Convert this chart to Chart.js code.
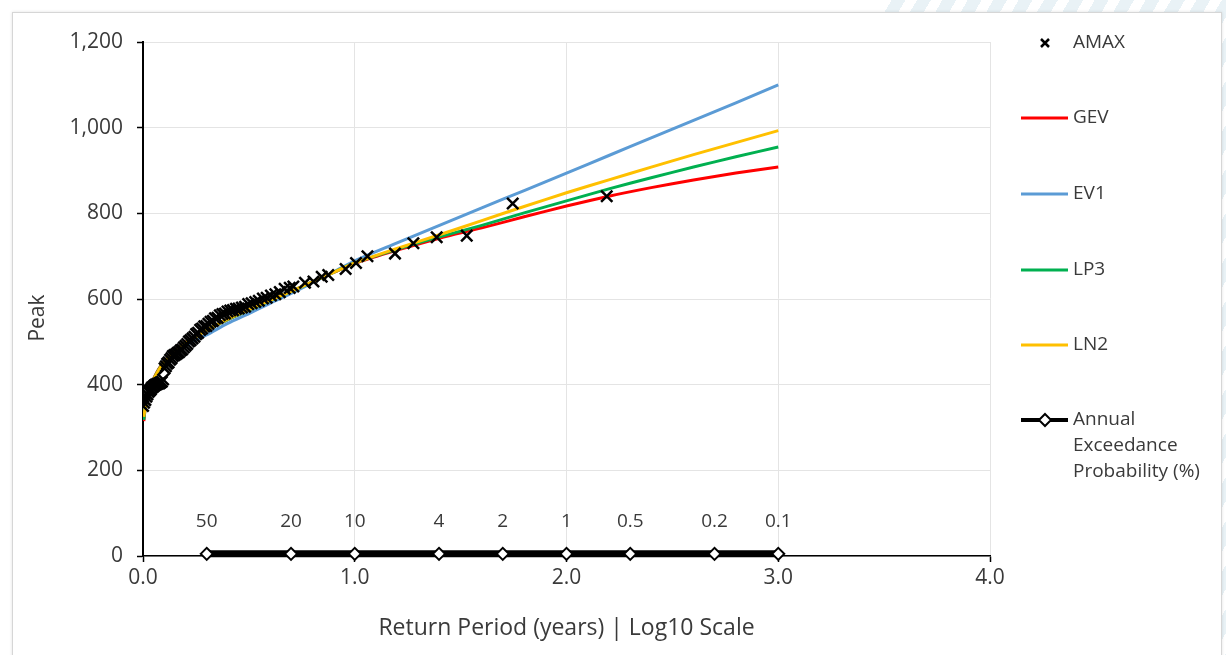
<!DOCTYPE html>
<html>
<head>
<meta charset="utf-8">
<script src="https://cdn.jsdelivr.net/npm/chart.js@4.4.1/dist/chart.umd.min.js"></script>
<style>
  html, body { margin: 0; padding: 0; background: #ffffff; }
  #wrap { position: relative; width: 1226px; height: 655px; overflow: hidden; }
  #stripes { position: absolute; left: 880px; top: 0; width: 346px; height: 655px;
    background: repeating-linear-gradient(120deg, #ffffff 0px, #ffffff 10px, #e9f2f6 10px, #e9f2f6 22px); }
  #card { position: absolute; left: 12px; top: 12px; width: 1208px; height: 700px;
    background: #ffffff; border: 1px solid #d6d6d6; box-shadow: 0 0 3px rgba(0,0,0,0.12); }
  canvas { position: absolute; left: 0; top: 0; }
</style>
</head>
<body>
<div id="wrap">
  <div id="stripes"></div>
  <div id="card"></div>
  <canvas id="c" width="1226" height="655"></canvas>
</div>
<script>
// ---- data ----
const fitX = [0.004, 0.01, 0.02, 0.035, 0.05, 0.075, 0.1, 0.15, 0.2, 0.25, 0.3, 0.4, 0.5, 0.6, 0.7, 0.8, 0.9, 1.0, 1.2, 1.4, 1.6, 1.8, 2.0, 2.2, 2.4, 2.6, 2.8, 3.0];
const gevY = [315, 343, 371, 397, 414, 437, 454, 480, 499, 514, 527, 552, 574, 596, 618, 640, 662, 683, 714, 742, 766, 792, 817, 840, 860, 878, 894, 908];
const ev1Y = [335, 352, 372, 393, 408, 428, 445, 470, 490, 505, 516, 543, 566, 590, 613, 638, 663, 689, 731, 772, 813, 853, 894, 935, 976, 1017, 1058, 1100];
const lp3Y = [318, 343, 370, 396, 413, 436, 453, 479, 498, 513, 527, 552, 574, 596, 618, 640, 662, 684, 716, 745, 772, 801, 829, 857, 883, 908, 932, 955];
const ln2Y = [325, 345, 370, 395, 412, 435, 452, 478, 497, 512, 527, 553, 575, 597, 618, 640, 662, 684, 718, 750, 783, 816, 848, 878, 908, 937, 965, 993];

const amaxX = [2.19, 1.746, 1.529, 1.387, 1.277, 1.19, 1.06, 1.006, 0.957, 0.875, 0.844, 0.805, 0.765, 0.71,
  0.693, 0.669, 0.646, 0.625, 0.604, 0.584, 0.566, 0.547, 0.530, 0.513, 0.497, 0.482, 0.467, 0.452, 0.439, 0.425,
  0.412, 0.399, 0.387, 0.375, 0.363, 0.352, 0.340, 0.330, 0.319, 0.309, 0.299, 0.289, 0.279, 0.270, 0.260, 0.251,
  0.243, 0.234, 0.225, 0.217, 0.209, 0.201, 0.193, 0.185, 0.178, 0.170, 0.163, 0.156, 0.148, 0.141, 0.135, 0.128,
  0.121, 0.114, 0.108, 0.102, 0.095, 0.089, 0.083, 0.077, 0.071, 0.065, 0.059, 0.054, 0.048, 0.042, 0.037, 0.032,
  0.026, 0.021, 0.016, 0.011, 0.005, 0.0003];
const amaxY = [840, 823, 748, 744, 730, 706, 700, 684, 670, 656, 652, 641, 638, 629,
  626, 624, 616, 611, 608, 603, 601, 596, 593, 590, 588, 582, 580, 578, 577, 574,
  573, 571, 566, 565, 562, 556, 555, 549, 547, 542, 537, 536, 531, 528, 521, 518,
  512, 508, 504, 501, 495, 491, 487, 482, 480, 476, 474, 471, 469, 467, 462, 458,
  452, 449, 443, 438, 412, 407, 405, 403, 402, 401, 400, 398, 395, 393, 389, 386,
  383, 377, 372, 364, 358, 350];

const aepX = [0.301, 0.699, 1.0, 1.398, 1.699, 2.0, 2.301, 2.699, 3.0];
const aepY = [5, 5, 5, 5, 5, 5, 5, 5, 5];
const aepLabels = ['50', '20', '10', '4', '2', '1', '0.5', '0.2', '0.1'];

const xTickValues = [0, 1, 2, 3, 4];
const yTickValues = [0, 200, 400, 600, 800, 1000, 1200];

const FONT = "'Open Sans', 'Noto Sans', sans-serif";
const TXT = '#3a3a3a';

const pts = (xs, ys) => xs.map((x, i) => ({ x: x, y: ys[i] }));

const fitStyle = (label, color, order, ys) => ({
  label: label, data: pts(fitX, ys), showLine: true, borderColor: color, backgroundColor: color,
  borderWidth: 3, pointRadius: 0, tension: 0.3, order: order
});

const datasets = [
  { label: 'AMAX', data: pts(amaxX, amaxY), pointStyle: 'crossRot', pointRadius: 8,
    pointBorderWidth: 2.5, borderColor: '#000', pointBorderColor: '#000', showLine: false, order: 0 },
  fitStyle('GEV', '#FF0000', 4, gevY),
  fitStyle('EV1', '#5B9BD5', 3, ev1Y),
  fitStyle('LP3', '#00B050', 2, lp3Y),
  fitStyle('LN2', '#FFC000', 1, ln2Y),
  { label: 'Annual Exceedance Probability (%)', data: pts(aepX, aepY), showLine: true,
    borderColor: '#000', borderWidth: 7, pointStyle: 'rectRot', pointRadius: 6,
    pointBackgroundColor: '#fff', pointBorderColor: '#000', pointBorderWidth: 2, clip: false, order: 5 }
];

const aepLabelPlugin = {
  id: 'aepLabels',
  afterDatasetsDraw(chart) {
    const meta = chart.getDatasetMeta(5);
    const ctx = chart.ctx;
    ctx.save();
    ctx.font = '19px ' + FONT;
    ctx.fillStyle = TXT;
    ctx.textAlign = 'center';
    ctx.textBaseline = 'middle';
    meta.data.forEach((p, i) => ctx.fillText(aepLabels[i], p.x, p.y - 32));
    ctx.restore();
  }
};

const yTitlePlugin = {
  id: 'yTitle',
  afterDraw(chart) {
    const ctx = chart.ctx;
    ctx.save();
    ctx.translate(38, 318);
    ctx.rotate(-Math.PI / 2);
    ctx.font = '21px ' + FONT;
    ctx.fillStyle = TXT;
    ctx.textAlign = 'center';
    ctx.textBaseline = 'middle';
    ctx.fillText('Peak', 0, 0);
    ctx.restore();
  }
};

const legendPlugin = {
  id: 'customLegend',
  afterDraw(chart) {
    const ctx = chart.ctx;
    const ds = chart.data.datasets;
    const lx0 = 1021, lx1 = 1068, tx = 1073;
    const rows = [43, 118, 194, 270, 345, 420];
    ctx.save();
    ctx.font = '19px ' + FONT;
    ctx.fillStyle = TXT;
    ctx.textBaseline = 'middle';
    ds.forEach((d, i) => {
      const y = rows[i];
      if (i === 0) {
        ctx.strokeStyle = '#000';
        ctx.lineWidth = 2.5;
        ctx.beginPath();
        ctx.moveTo(1041, y - 4); ctx.lineTo(1049, y + 4);
        ctx.moveTo(1049, y - 4); ctx.lineTo(1041, y + 4);
        ctx.stroke();
      } else {
        ctx.strokeStyle = d.borderColor;
        ctx.lineWidth = i === 5 ? 4 : 3;
        ctx.beginPath();
        ctx.moveTo(lx0, y); ctx.lineTo(lx1, y);
        ctx.stroke();
        if (i === 5) {
          ctx.fillStyle = '#fff';
          ctx.lineWidth = 2;
          ctx.beginPath();
          ctx.moveTo(1045, y - 6); ctx.lineTo(1051, y); ctx.lineTo(1045, y + 6); ctx.lineTo(1039, y);
          ctx.closePath();
          ctx.fill(); ctx.stroke();
        }
      }
      ctx.fillStyle = TXT;
      if (i === 5) {
        const words = ['Annual', 'Exceedance', 'Probability (%)'];
        words.forEach((w, k) => ctx.fillText(w, tx, y + k * 26));
      } else {
        ctx.fillText(d.label, tx, y);
      }
    });
    ctx.restore();
  }
};

new Chart(document.getElementById('c'), {
  type: 'scatter',
  data: { datasets: datasets },
  options: {
    responsive: false,
    devicePixelRatio: 1,
    animation: false,
    layout: { padding: { top: 42, right: 236, left: 0, bottom: 0 } },
    plugins: { legend: { display: false }, tooltip: { enabled: false } },
    scales: {
      x: {
        type: 'linear', min: 0, max: 4,
        afterBuildTicks: s => { s.ticks = xTickValues.map(v => ({ value: v })); },
        ticks: { callback: v => Number(v).toFixed(1), color: TXT, font: { family: FONT, size: 21 }, padding: 3 },
        grid: { color: '#e4e4e4', lineWidth: 1, tickColor: '#000', tickLength: 6, tickWidth: 1.5 },
        border: { color: '#000', width: 1.5 },
        title: { display: true, text: 'Return Period (years) | Log10 Scale', color: TXT,
                 font: { family: FONT, size: 23 }, padding: { top: 0, bottom: 13 } },
        afterFit: s => { s.height = 99; }
      },
      y: {
        min: 0, max: 1200,
        afterBuildTicks: s => { s.ticks = yTickValues.map(v => ({ value: v })); },
        ticks: { callback: v => Number(v).toLocaleString('en-US'), color: TXT, font: { family: FONT, size: 21 }, padding: 14 },
        grid: { color: '#e4e4e4', lineWidth: 1, tickColor: '#000', tickLength: 6, tickWidth: 1.5 },
        border: { color: '#000', width: 2 },
        afterFit: s => { s.width = 143; }
      }
    }
  },
  plugins: [aepLabelPlugin, yTitlePlugin, legendPlugin]
});
</script>
</body>
</html>
